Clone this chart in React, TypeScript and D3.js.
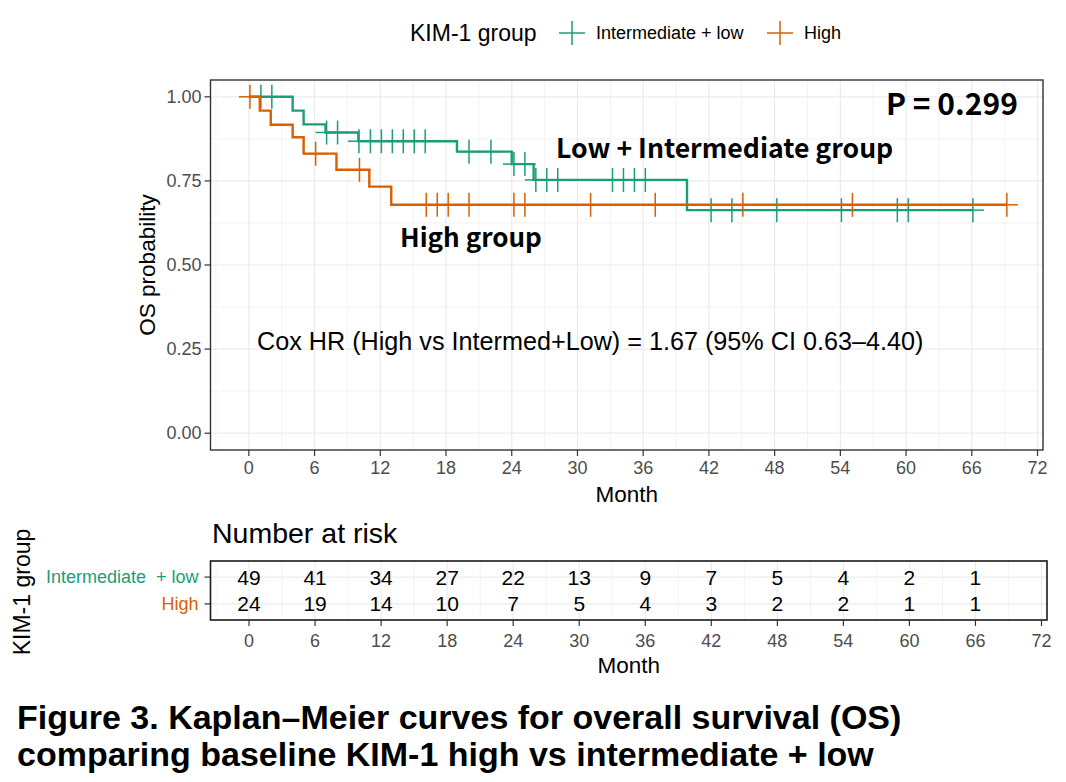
import React, { useEffect, useRef } from 'react'
import * as d3 from 'd3'

// Kaplan-Meier step points (month, survival)
const lowTimes = [0, 4, 5, 7, 10, 19, 24, 26, 40]
const lowSurv = [1, 0.959, 0.918, 0.894, 0.868, 0.837, 0.8, 0.753, 0.663]
const lowEnd = 66.1
const lowCensor = [1.1, 2.1, 7.1, 8.1, 10.05, 11.1, 12.1, 13.1, 14.1, 15.1, 16.1, 20.1, 22.1, 24.2, 25.2, 26.2, 27.2, 28.2,
    33.2, 34.2, 35.2, 36.2, 42.2, 44.1, 48.2, 54.1, 59.2, 60.2, 66.1]

const highTimes = [0, 1, 2, 4, 5, 8, 11, 13]
const highSurv = [1, 0.959, 0.917, 0.88, 0.831, 0.783, 0.733, 0.679]
const highEnd = 69.2
const highCensor = [0.1, 6.1, 10.1, 16.2, 17.2, 18.2, 20.1, 24.2, 25.2, 31.2, 37.1, 45.1, 55.1, 69.2]

// number at risk table
const riskMonths = [0, 6, 12, 18, 24, 30, 36, 42, 48, 54, 60, 66]
const riskLow = [49, 41, 34, 27, 22, 13, 9, 7, 5, 4, 2, 1]
const riskHigh = [24, 19, 14, 10, 7, 5, 4, 3, 2, 2, 1, 1]

const xTicks = [0, 6, 12, 18, 24, 30, 36, 42, 48, 54, 60, 66, 72]
const yTicks = [0, 0.25, 0.5, 0.75, 1]

const groupNames = ['Intermediate + low', 'High']
const colors = ['#1b9e77', '#d95f02']

export default function App() {
    const ref = useRef<SVGSVGElement>(null)

    useEffect(() => {
        const svg = d3.select(ref.current)
        svg.selectAll('*').remove()
        const font = 'Liberation Sans, Arial, sans-serif'
        const jp = '"Noto Sans CJK JP", "Noto Sans", sans-serif'

        // ---------- KM panel ----------
        const left = 210.5, right = 1043, top = 80, bottom = 450
        const x = d3.scaleLinear().domain([-3.5, 72.5]).range([left, right])
        const y = d3.scaleLinear().domain([-0.05, 1.05]).range([bottom, top])

        const grid = svg.append('g')
        const minorX = xTicks.slice(0, -1).map(t => t + 3).concat([-3])
        minorX.filter(t => t >= -3.5 && t <= 72.5).forEach(t => {
            grid.append('line').attr('x1', x(t)).attr('x2', x(t)).attr('y1', top).attr('y2', bottom)
                .attr('stroke', '#ebebeb').attr('stroke-width', 0.6)
        })
        yTicks.slice(0, -1).map(t => t + 0.125).forEach(t => {
            grid.append('line').attr('x1', left).attr('x2', right).attr('y1', y(t)).attr('y2', y(t))
                .attr('stroke', '#ebebeb').attr('stroke-width', 0.6)
        })
        xTicks.forEach(t => {
            grid.append('line').attr('x1', x(t)).attr('x2', x(t)).attr('y1', top).attr('y2', bottom)
                .attr('stroke', '#ebebeb').attr('stroke-width', 1.2)
        })
        yTicks.forEach(t => {
            grid.append('line').attr('x1', left).attr('x2', right).attr('y1', y(t)).attr('y2', y(t))
                .attr('stroke', '#ebebeb').attr('stroke-width', 1.2)
        })

        const series = [
            { times: lowTimes, surv: lowSurv, end: lowEnd, censor: lowCensor, color: colors[0] },
            { times: highTimes, surv: highSurv, end: highEnd, censor: highCensor, color: colors[1] },
        ]

        const line = d3.line<[number, number]>()
            .x(d => x(d[0]))
            .y(d => y(d[1]))
            .curve(d3.curveStepAfter)

        series.forEach(s => {
            const pts: [number, number][] = s.times.map((t, i) => [t, s.surv[i]])
            pts.push([s.end, s.surv[s.surv.length - 1]])
            svg.append('path')
                .attr('d', line(pts))
                .attr('fill', 'none')
                .attr('stroke', s.color)
                .attr('stroke-width', 2.4)

            s.censor.forEach(c => {
                const idx = d3.bisectRight(s.times, c) - 1
                const cx = x(c), cy = y(s.surv[idx])
                svg.append('line').attr('x1', cx - 11).attr('x2', cx + 11).attr('y1', cy).attr('y2', cy)
                    .attr('stroke', s.color).attr('stroke-width', 1.5)
                svg.append('line').attr('x1', cx).attr('x2', cx).attr('y1', cy - 12).attr('y2', cy + 12)
                    .attr('stroke', s.color).attr('stroke-width', 1.5)
            })
        })

        svg.append('rect').attr('x', left).attr('y', top).attr('width', right - left).attr('height', bottom - top)
            .attr('fill', 'none').attr('stroke', '#333333').attr('stroke-width', 1.4)

        // axes
        yTicks.forEach(t => {
            svg.append('line').attr('x1', left - 6).attr('x2', left).attr('y1', y(t)).attr('y2', y(t))
                .attr('stroke', '#333333').attr('stroke-width', 1.2)
            svg.append('text').attr('x', left - 9).attr('y', y(t)).attr('dy', '0.35em')
                .attr('text-anchor', 'end').attr('font-family', font).attr('font-size', 18)
                .attr('fill', '#4d4d4d').text(d3.format('.2f')(t))
        })
        xTicks.forEach(t => {
            svg.append('line').attr('x1', x(t)).attr('x2', x(t)).attr('y1', bottom).attr('y2', bottom + 6)
                .attr('stroke', '#333333').attr('stroke-width', 1.2)
            svg.append('text').attr('x', x(t)).attr('y', bottom + 24)
                .attr('text-anchor', 'middle').attr('font-family', font).attr('font-size', 18)
                .attr('fill', '#4d4d4d').text(t)
        })
        svg.append('text').attr('x', (left + right) / 2).attr('y', 502).attr('text-anchor', 'middle')
            .attr('font-family', font).attr('font-size', 22.5).text('Month')
        svg.append('text').attr('transform', 'translate(155,' + ((top + bottom) / 2) + ') rotate(-90)')
            .attr('text-anchor', 'middle').attr('font-family', font).attr('font-size', 22.5).text('OS probability')

        // legend
        svg.append('text').attr('x', 410).attr('y', 41).attr('font-family', font).attr('font-size', 23)
            .text('KIM-1 group')
        const legX = [572, 780]
        groupNames.forEach((g, i) => {
            svg.append('line').attr('x1', legX[i] - 13).attr('x2', legX[i] + 13).attr('y1', 33).attr('y2', 33)
                .attr('stroke', colors[i]).attr('stroke-width', 1.5)
            svg.append('line').attr('x1', legX[i]).attr('x2', legX[i]).attr('y1', 21).attr('y2', 45)
                .attr('stroke', colors[i]).attr('stroke-width', 1.5)
            svg.append('text').attr('x', legX[i] + 24).attr('y', 39).attr('font-family', font)
                .attr('font-size', 18).text(g)
        })

        // annotations
        svg.append('text').attr('x', 886).attr('y', 115).attr('font-family', jp).attr('font-weight', 'bold')
            .attr('font-size', 30).text('P = 0.299')
        svg.append('text').attr('x', 556).attr('y', 158).attr('font-family', jp).attr('font-weight', 'bold')
            .attr('font-size', 26.6).text('Low + Intermediate group')
        svg.append('text').attr('x', 400).attr('y', 247).attr('font-family', jp).attr('font-weight', 'bold')
            .attr('font-size', 26).text('High group')
        svg.append('text').attr('x', 257).attr('y', 350).attr('font-family', font)
            .attr('font-size', 25.2).text('Cox HR (High vs Intermed+Low) = 1.67 (95% CI 0.63\u20134.40)')

        // ---------- risk table ----------
        const tTop = 561, tBottom = 620, tRight = 1047
        const xt = d3.scaleLinear().domain([-3.5, 72.5]).range([left, tRight])
        const yt = d3.scaleLinear().domain([0.4, 2.6]).range([tBottom, tTop])
        const rowPos = [2, 1]

        svg.append('text').attr('x', 212).attr('y', 543).attr('font-family', font).attr('font-size', 28.5)
            .text('Number at risk')

        minorX.filter(t => t >= -3.5 && t <= 72.5).forEach(t => {
            svg.append('line').attr('x1', xt(t)).attr('x2', xt(t)).attr('y1', tTop).attr('y2', tBottom)
                .attr('stroke', '#ebebeb').attr('stroke-width', 0.6)
        })
        xTicks.forEach(t => {
            svg.append('line').attr('x1', xt(t)).attr('x2', xt(t)).attr('y1', tTop).attr('y2', tBottom)
                .attr('stroke', '#ebebeb').attr('stroke-width', 1.2)
        })
        rowPos.forEach(r => {
            svg.append('line').attr('x1', left).attr('x2', tRight).attr('y1', yt(r)).attr('y2', yt(r))
                .attr('stroke', '#ebebeb').attr('stroke-width', 1.2)
        })

        const rows = [riskLow, riskHigh]
        rows.forEach((row, i) => {
            row.forEach((n, j) => {
                svg.append('text').attr('x', xt(riskMonths[j])).attr('y', yt(rowPos[i])).attr('dy', '0.36em')
                    .attr('text-anchor', 'middle').attr('font-family', font).attr('font-size', 21).text(n)
            })
            svg.append('line').attr('x1', left - 6).attr('x2', left).attr('y1', yt(rowPos[i])).attr('y2', yt(rowPos[i]))
                .attr('stroke', '#333333').attr('stroke-width', 1.2)
            svg.append('text').attr('x', left - 12).attr('y', yt(rowPos[i])).attr('dy', '0.35em')
                .attr('text-anchor', 'end').attr('font-family', font).attr('font-size', 18)
                .attr('fill', colors[i]).style('white-space', 'pre')
                .text(i == 0 ? 'Intermediate  + low' : 'High')
        })

        svg.append('rect').attr('x', left).attr('y', tTop).attr('width', tRight - left).attr('height', tBottom - tTop)
            .attr('fill', 'none').attr('stroke', '#1a1a1a').attr('stroke-width', 1.6)

        xTicks.forEach(t => {
            svg.append('line').attr('x1', xt(t)).attr('x2', xt(t)).attr('y1', tBottom).attr('y2', tBottom + 6)
                .attr('stroke', '#333333').attr('stroke-width', 1.2)
            svg.append('text').attr('x', xt(t)).attr('y', tBottom + 27)
                .attr('text-anchor', 'middle').attr('font-family', font).attr('font-size', 18)
                .attr('fill', '#4d4d4d').text(t)
        })
        svg.append('text').attr('x', (left + tRight) / 2).attr('y', 673).attr('text-anchor', 'middle')
            .attr('font-family', font).attr('font-size', 22.5).text('Month')
        svg.append('text').attr('transform', 'translate(30,' + 592 + ') rotate(-90)')
            .attr('text-anchor', 'middle').attr('font-family', font).attr('font-size', 23).text('KIM-1 group')

        // caption
        svg.append('text').attr('x', 17).attr('y', 729).attr('font-family', font).attr('font-weight', 'bold')
            .attr('font-size', 34).text('Figure 3. Kaplan\u2013Meier curves for overall survival (OS)')
        svg.append('text').attr('x', 17).attr('y', 766).attr('font-family', font).attr('font-weight', 'bold')
            .attr('font-size', 34).text('comparing baseline KIM-1 high vs intermediate + low')
    }, [])

    return (
        <svg ref={ref} width={1066} height={782}
            style={{ position: 'absolute', left: 0, top: 0, background: '#fff' }} />
    )
}
